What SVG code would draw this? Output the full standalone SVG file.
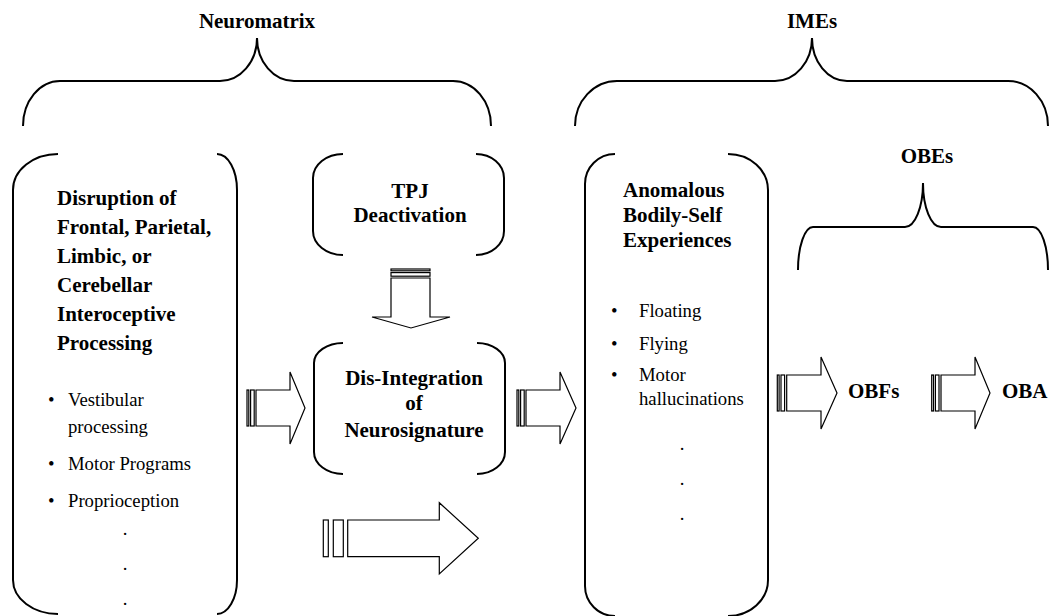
<svg xmlns="http://www.w3.org/2000/svg" width="1054" height="616" viewBox="0 0 1054 616">
  <style>
    .brace { fill: none; stroke: #000; stroke-width: 2; }
    .bracket { fill: none; stroke: #000; stroke-width: 2; }
    .arrow { fill: #fff; stroke: #000; stroke-width: 1.2; stroke-linejoin: miter; }
    .title { font-family: 'Liberation Serif', 'DejaVu Serif', serif; font-weight: bold; font-size: 21px; fill: #000; }
    .item { font-family: 'Liberation Serif', 'DejaVu Serif', serif; font-size: 18.7px; fill: #000; }
    .mid { text-anchor: middle; }
  </style>
  <rect width="1054" height="616" fill="#fff"/>

  <!-- grouping braces -->
  <g id="neuromatrix">
    <path class="brace" d="M23,126 A37,45 0 0 1 60,81 L220,81 A37,43 0 0 0 257,38 A37,43 0 0 0 294,81 L453,81 A38,45 0 0 1 491,126"/>
    <text class="title mid" x="257" y="28">Neuromatrix</text>
  </g>
  <g id="imes">
    <path class="brace" d="M575,126 A42,45 0 0 1 617,81 L775,81 A37,43 0 0 0 812,38 A35,43 0 0 0 847,81 L1008,81 A40,45 0 0 1 1048,126"/>
    <text class="title mid" x="812" y="28">IMEs</text>
  </g>
  <g id="obes">
    <path class="brace" d="M798,270 A15,43 0 0 1 813,227 L905,227 A18,44 0 0 0 923,183 A18,44 0 0 0 941,227 L1033,227 A15,43 0 0 1 1048,270"/>
    <text class="title mid" x="927" y="163">OBEs</text>
  </g>

  <!-- process boxes -->
  <g id="disruption">
    <path class="bracket" d="M58,154 A45,36 0 0 0 13,190 L13,580 A45,34 0 0 0 58,614"/>
    <path class="bracket" d="M217,154 A20,36 0 0 1 237,190 L237,580 A20,34 0 0 1 217,614"/>
    <text class="title" x="57" y="205">Disruption of</text>
    <text class="title" x="57" y="234">Frontal, Parietal,</text>
    <text class="title" x="57" y="263">Limbic, or</text>
    <text class="title" x="57" y="292">Cerebellar</text>
    <text class="title" x="57" y="321">Interoceptive</text>
    <text class="title" x="57" y="350">Processing</text>
    <text class="item" x="48" y="406">•</text>
    <text class="item" x="68" y="406">Vestibular</text>
    <text class="item" x="68" y="433">processing</text>
    <text class="item" x="48" y="470">•</text>
    <text class="item" x="68" y="470">Motor Programs</text>
    <text class="item" x="48" y="507">•</text>
    <text class="item" x="68" y="507">Proprioception</text>
    <text class="item mid" x="125" y="535">.</text>
    <text class="item mid" x="125" y="570">.</text>
    <text class="item mid" x="125" y="605">.</text>
  </g>

  <g id="tpj">
    <path class="bracket" d="M343,154 A30,24 0 0 0 313,178 L313,231 A30,24 0 0 0 343,255"/>
    <path class="bracket" d="M476,154 A28,24 0 0 1 504,178 L504,231 A28,24 0 0 1 476,255"/>
    <text class="title mid" x="410" y="198">TPJ</text>
    <text class="title mid" x="410" y="222">Deactivation</text>
  </g>

  <g id="disintegration">
    <path class="bracket" d="M343,343 A29,20 0 0 0 314,363 L314,452 A29,22 0 0 0 343,474"/>
    <path class="bracket" d="M477,343 A28,20 0 0 1 505,363 L505,452 A28,22 0 0 1 477,474"/>
    <text class="title mid" x="414" y="385">Dis-Integration</text>
    <text class="title mid" x="414" y="410">of</text>
    <text class="title mid" x="414" y="437">Neurosignature</text>
  </g>

  <g id="anomalous">
    <path class="bracket" d="M615,154 A30,30 0 0 0 585,184 L585,586 A30,30 0 0 0 615,616"/>
    <path class="bracket" d="M728,154 A40,36 0 0 1 768,190 L768,580 A40,36 0 0 1 728,616"/>
    <text class="title" x="623" y="197">Anomalous</text>
    <text class="title" x="623" y="222">Bodily-Self</text>
    <text class="title" x="623" y="247">Experiences</text>
    <text class="item" x="611" y="317">•</text>
    <text class="item" x="639" y="317">Floating</text>
    <text class="item" x="611" y="350">•</text>
    <text class="item" x="639" y="350">Flying</text>
    <text class="item" x="611" y="381">•</text>
    <text class="item" x="639" y="381">Motor</text>
    <text class="item" x="639" y="405">hallucinations</text>
    <text class="item mid" x="682" y="450">.</text>
    <text class="item mid" x="682" y="485">.</text>
    <text class="item mid" x="682" y="520">.</text>
  </g>

  <g id="obfs">
    <text class="title" x="848" y="398">OBFs</text>
  </g>
  <g id="oba">
    <text class="title" x="1002" y="398">OBA</text>
  </g>

  <!-- striped block arrows -->
  <g id="connectors">
    <!-- TPJ deactivation down into dis-integration -->
    <g>
      <rect class="arrow" x="391" y="269" width="39" height="1.8"/>
      <rect class="arrow" x="391" y="272.6" width="39" height="3.6"/>
      <path class="arrow" d="M391,278 L430,278 L430,317 L450,317 L411,328 L372,317 L391,317 Z"/>
    </g>
    <!-- disruption into dis-integration -->
    <g>
      <rect class="arrow" x="247" y="390" width="1.8" height="36"/>
      <rect class="arrow" x="250.6" y="390" width="3.6" height="36"/>
      <path class="arrow" d="M256,390 L290,390 L290,372 L305,408 L290,444 L290,426 L256,426 Z"/>
    </g>
    <!-- dis-integration into anomalous experiences -->
    <g>
      <rect class="arrow" x="517" y="390" width="1.8" height="36"/>
      <rect class="arrow" x="520.6" y="390" width="3.6" height="36"/>
      <path class="arrow" d="M526,390 L560,390 L560,372 L576,408 L560,444 L560,426 L526,426 Z"/>
    </g>
    <!-- large lower arrow -->
    <g>
      <rect class="arrow" x="323.3" y="520" width="5" height="36.7"/>
      <rect class="arrow" x="333.3" y="520" width="10" height="36.7"/>
      <path class="arrow" d="M347.7,520 L439.3,520 L439.3,502.7 L478.3,538.3 L439.3,574 L439.3,556.7 L347.7,556.7 Z"/>
    </g>
    <!-- to OBFs -->
    <g>
      <rect class="arrow" x="777.3" y="375" width="1.8" height="36"/>
      <rect class="arrow" x="781" y="375" width="3.6" height="36"/>
      <path class="arrow" d="M786.7,375 L821,375 L821,357 L837,393 L821,429 L821,411 L786.7,411 Z"/>
    </g>
    <!-- to OBA -->
    <g>
      <rect class="arrow" x="931.7" y="375" width="1.8" height="36"/>
      <rect class="arrow" x="935.4" y="375" width="3.6" height="36"/>
      <path class="arrow" d="M941,375 L975,375 L975,357 L990,393 L975,429 L975,411 L941,411 Z"/>
    </g>
  </g>
</svg>
